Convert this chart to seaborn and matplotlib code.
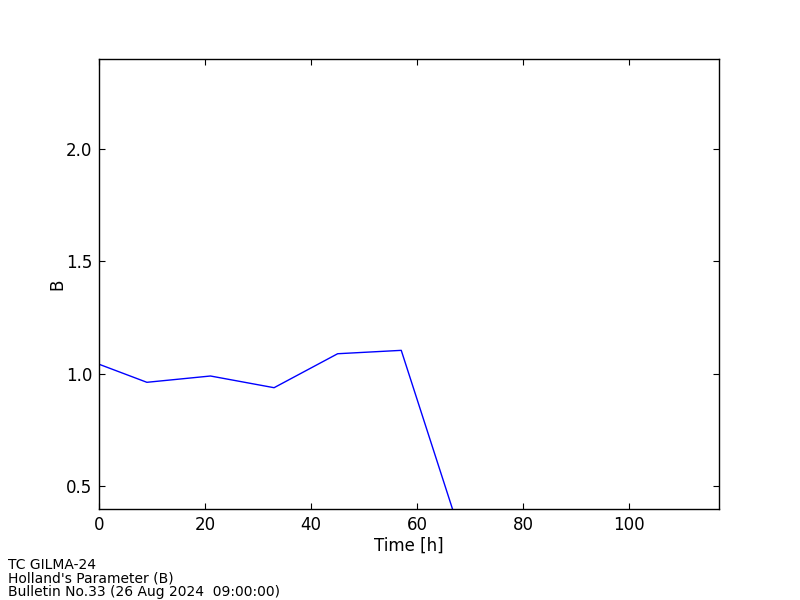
import matplotlib
matplotlib.use("Agg")
import matplotlib.pyplot as plt
import seaborn as sns
import pandas as pd

hours = [0, 9, 21, 33, 45, 57, 69]
b_values = [1.043, 0.963, 0.991, 0.939, 1.090, 1.105, 0.23]
footer_lines = ["TC GILMA-24", "Holland's Parameter (B)", "Bulletin No.33 (26 Aug 2024  09:00:00)"]

sns.set_style("ticks")
plt.rcParams['font.family'] = ['DejaVu Sans']
plt.rcParams['text.color'] = 'black'
plt.rcParams['axes.labelcolor'] = 'black'

df = pd.DataFrame({"Time [h]": hours, "B": b_values})

fig = plt.figure(figsize=(8, 6), dpi=100)
ax = fig.add_axes([0.124, 0.1517, 0.775, 0.75])
sns.lineplot(data=df, x="Time [h]", y="B", ax=ax, color="blue", linewidth=1.0)

ax.set_xlim(0, 117)
ax.set_ylim(0.4, 2.4)
ax.set_xticks([0, 20, 40, 60, 80, 100])
ax.set_yticks([0.5, 1.0, 1.5, 2.0])
ax.set_yticklabels(["0.5", "1.0", "1.5", "2.0"])
ax.tick_params(direction="in", top=True, right=True, length=4, width=0.8,
               labelsize=12, colors="black", pad=5)
for s in ax.spines.values():
    s.set_visible(True)
    s.set_color("black")
    s.set_linewidth(1.0)
ax.set_xlabel("Time [h]", fontsize=12, labelpad=2, color="black")
ax.set_ylabel("B", fontsize=12, labelpad=0, color="black")

fig.text(8/800, 1 - 578.5/600, "\n".join(footer_lines), fontsize=10, ha="left", va="center",
         linespacing=0.95, color="black")

fig.savefig("out.png", dpi=100)
